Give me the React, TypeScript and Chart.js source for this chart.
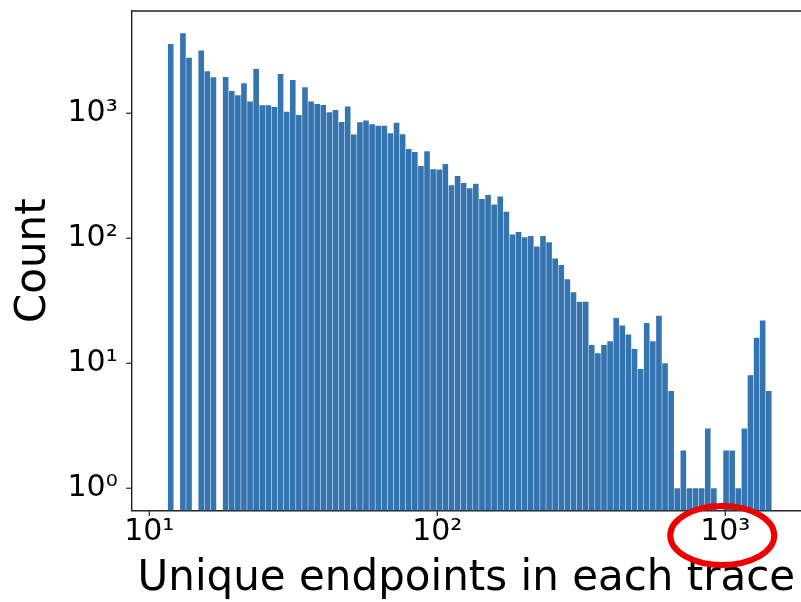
import React, { useEffect, useRef } from 'react';
import { Chart, registerables } from 'chart.js';

Chart.register(...registerables);

// Histogram bins (log-spaced): first edge and width in log10 units
const BIN_LOG_START = 1.0639;
const BIN_LOG_WIDTH = 0.02119;

// Counts per bin (0 = empty bin)
const counts: number[] = [
  3584, 0, 4365, 2786, 0, 3170, 2168, 1941, 0, 1951,
  1508, 1393, 1738, 1239, 2262, 1159, 1159, 1123, 2063, 1030,
  1847, 969, 1618, 1239, 1187, 1165, 1019, 1063, 852, 1133,
  677, 847, 873, 817, 796, 796, 692, 841, 679, 518,
  490, 379, 497, 356, 355, 392, 265, 315, 277, 251,
  273, 206, 222, 186, 216, 163, 107, 112, 102, 104,
  86, 104, 93, 69, 61, 47, 37, 31, 31, 14,
  12, 14, 15, 23, 20, 17, 13, 9, 21, 15,
  24, 10, 6, 1, 2, 1, 1, 1, 3, 1,
  0, 2, 2, 1, 3, 8, 16, 22, 6,
];

// Axis ranges
const X_LOG_MIN = 0.939;
const X_LOG_MAX = 3.263;
const Y_MIN = Math.pow(10, -0.178);
const Y_MAX = Math.pow(10, 3.818);

// Tick values
const xDecades = [0, 1, 2, 3];
const yDecades = [-1, 0, 1, 2, 3];
const mantissas = [1, 2, 3, 4, 5, 6, 7, 8, 9];

const X_TITLE = 'Unique endpoints in each trace';
const Y_TITLE = 'Count';
const HIGHLIGHT_DECADE = 3;

const BAR_COLOR = '#3474b0';
const AXIS_COLOR = '#222222';
const FONT = "'DejaVu Sans', sans-serif";

const SUP: Record<string, string> = { '0': '⁰', '1': '¹', '2': '²', '3': '³', '4': '⁴', '-': '⁻' };
const powLabel = (e: number) => '10' + String(e).split('').map((c) => SUP[c] || c).join('');

const xTickValues = xDecades
  .flatMap((d) => mantissas.map((m) => Math.log10(m * Math.pow(10, d))))
  .filter((v) => v >= X_LOG_MIN && v <= X_LOG_MAX);
const yTickValues = yDecades
  .flatMap((d) => mantissas.map((m) => m * Math.pow(10, d)))
  .filter((v) => v >= Y_MIN && v <= Y_MAX);

const isInt = (v: number) => Math.abs(v - Math.round(v)) < 1e-9;

const decorations = {
  id: 'decorations',
  afterDraw(chart: any) {
    const { ctx, chartArea, scales } = chart;
    const x = scales.x;
    const y = scales.y;
    ctx.save();
    ctx.strokeStyle = AXIS_COLOR;
    // top spine
    ctx.lineWidth = 1.4;
    ctx.beginPath();
    ctx.moveTo(chartArea.left, chartArea.top);
    ctx.lineTo(chartArea.right + 1, chartArea.top);
    ctx.stroke();
    // x ticks
    x.ticks.forEach((t: any) => {
      const px = x.getPixelForValue(t.value);
      const major = isInt(t.value);
      ctx.lineWidth = major ? 1.2 : 0.8;
      ctx.beginPath();
      ctx.moveTo(px, chartArea.bottom);
      ctx.lineTo(px, chartArea.bottom + (major ? 5.5 : 3));
      ctx.stroke();
    });
    // y ticks
    y.ticks.forEach((t: any) => {
      const py = y.getPixelForValue(t.value);
      const major = isInt(Math.log10(t.value));
      ctx.lineWidth = major ? 1.2 : 0.8;
      ctx.beginPath();
      ctx.moveTo(chartArea.left, py);
      ctx.lineTo(chartArea.left - (major ? 5.5 : 3), py);
      ctx.stroke();
    });
    // red highlight ellipse around the 10^3 label
    const cx = x.getPixelForValue(HIGHLIGHT_DECADE) - 3;
    const cy = chartArea.bottom + 25;
    ctx.strokeStyle = '#ee0000';
    ctx.lineWidth = 6;
    ctx.beginPath();
    ctx.ellipse(cx, cy, 52, 29.5, 0, 0, Math.PI * 2);
    ctx.stroke();
    ctx.restore();
  },
};

export default function App() {
  const ref = useRef<HTMLCanvasElement | null>(null);
  useEffect(() => {
    if (!ref.current) return;
    const chart = new Chart(ref.current, {
      type: 'bar',
      data: {
        datasets: [
          {
            data: counts.map((c, i) => ({
              x: BIN_LOG_START + (i + 0.5) * BIN_LOG_WIDTH,
              y: c > 0 ? c : null,
            })) as any,
            backgroundColor: BAR_COLOR,
            borderWidth: 0,
            barPercentage: 0.92,
            categoryPercentage: 1,
          },
        ],
      },
      options: {
        animation: false,
        responsive: false,
        devicePixelRatio: 1,
        layout: { padding: { top: 11, right: 0, left: 0, bottom: 0 } },
        plugins: { legend: { display: false }, tooltip: { enabled: false } },
        scales: {
          x: {
            type: 'linear',
            min: X_LOG_MIN,
            max: X_LOG_MAX,
            offset: false,
            grid: { display: false, drawTicks: false },
            border: { display: true, color: AXIS_COLOR, width: 1.4 },
            ticks: {
              autoSkip: false,
              maxRotation: 0,
              padding: 4,
              color: '#000',
              font: { family: FONT, size: 30 },
              callback: (v: any) => (isInt(Number(v)) ? powLabel(Math.round(Number(v))) : null),
            },
            afterBuildTicks: (scale: any) => {
              scale.ticks = xTickValues.map((v) => ({ value: v }));
            },
            afterFit: (scale: any) => {
              scale.height = 91.5;
              scale.paddingLeft = 0;
              scale.paddingRight = 0;
              scale.paddingTop = 0;
              scale.paddingBottom = 0;
            },
            title: {
              display: true,
              text: X_TITLE,
              color: '#000',
              font: { family: FONT, size: 42, lineHeight: 1.1 },
              padding: { top: 0, bottom: 0 },
            },
          } as any,
          y: {
            type: 'logarithmic',
            min: Y_MIN,
            max: Y_MAX,
            grid: { display: false, drawTicks: false },
            border: { display: true, color: AXIS_COLOR, width: 1.4 },
            ticks: {
              autoSkip: false,
              padding: 14,
              color: '#000',
              font: { family: FONT, size: 30 },
              callback: (v: any) => {
                const e = Math.log10(Number(v));
                return isInt(e) ? powLabel(Math.round(e)) : null;
              },
            },
            afterBuildTicks: (scale: any) => {
              scale.ticks = yTickValues.map((v) => ({ value: v }));
            },
            afterFit: (scale: any) => {
              scale.width = 131.7;
              scale.paddingLeft = 0;
              scale.paddingRight = 0;
              scale.paddingTop = 0;
              scale.paddingBottom = 0;
            },
            title: {
              display: true,
              text: Y_TITLE,
              color: '#000',
              font: { family: FONT, size: 42 },
              padding: { top: 9, bottom: 0 },
            },
          } as any,
        },
      },
      plugins: [decorations],
    });
    return () => chart.destroy();
  }, []);
  return (
    <div style={{ position: 'fixed', left: 0, top: 0, width: 801, height: 602, background: '#fff', overflow: 'hidden' }}>
      <canvas ref={ref} width={801} height={602} style={{ display: 'block', width: 801, height: 602 }} />
    </div>
  );
}
